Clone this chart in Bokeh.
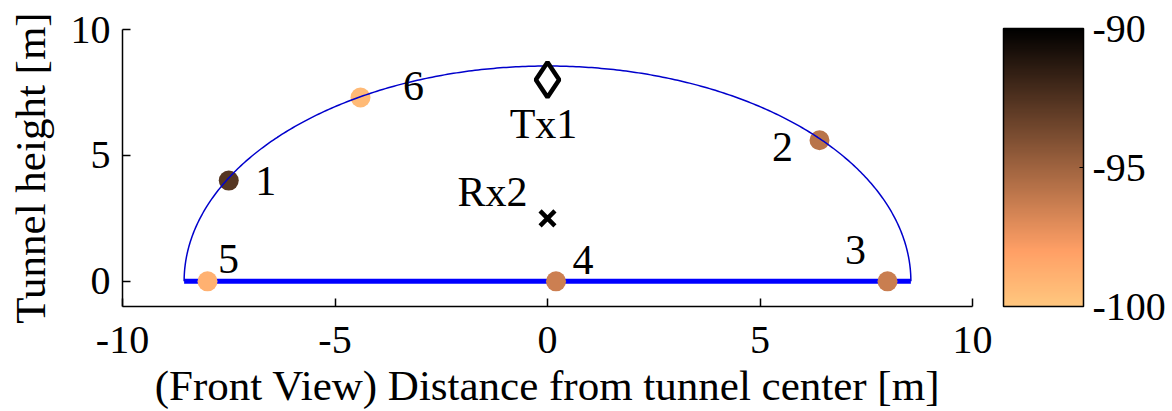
import numpy as np
from bokeh.plotting import figure
from bokeh.models import (ColumnDataSource, LinearColorMapper, ColorBar,
                          FixedTicker, Range1d, PrintfTickFormatter)
from bokeh.core.properties import value
from bokeh.embed import file_html
from bokeh.resources import INLINE

# Measurement points around the tunnel cross-section (front view)
point_ids = ["1", "2", "3", "4", "5", "6"]
point_x = [-7.5, 6.4, 8.0, 0.2, -8.0, -4.4]
point_y = [4.0, 5.6, 0.0, 0.0, 0.0, 7.3]
point_rss = [-92.7, -95.8, -96.3, -96.4, -98.9, -99.3]  # received power [dBm]

# Transmitter / receiver antenna positions
tx_name, tx_x, tx_y = "Tx1", 0.0, 8.0
rx_name, rx_x, rx_y = "Rx2", 0.0, 2.5

# Tunnel geometry
tunnel_radius = 8.55

# Axis ticks
x_ticks = [-10, -5, 0, 5, 10]
y_ticks = [0, 5, 10]
cbar_ticks = [-100, -95, -90]
cbar_low, cbar_high = -100, -90

FONT = "Liberation Serif"


def copper(t):
    r = min(1.0, 1.25 * t)
    g = 0.7812 * t
    b = 0.4975 * t
    return "#%02x%02x%02x" % (int(round(r * 255)), int(round(g * 255)), int(round(b * 255)))


# reversed copper: light at the low end, black at the high end
palette = [copper(1 - i / 255) for i in range(256)]
mapper = LinearColorMapper(palette=palette, low=cbar_low, high=cbar_high)

p = figure(width=1172, height=411, output_backend="svg", toolbar_location=None,
           x_range=Range1d(-10, 10), y_range=Range1d(-1, 10),
           min_border_left=122, min_border_right=200,
           min_border_top=29, min_border_bottom=104)
p.outline_line_color = None
p.grid.grid_line_color = None
p.background_fill_color = "white"
p.border_fill_color = "white"

# tunnel floor and arched ceiling
p.line([-tunnel_radius, tunnel_radius], [0, 0], line_color="#0000ff", line_width=5)

src = ColumnDataSource(dict(x=point_x, y=point_y, rss=point_rss, label=point_ids))
p.scatter("x", "y", source=src, size=20, marker="circle",
          fill_color={"field": "rss", "transform": mapper}, line_color=None)

theta = np.linspace(0, np.pi, 361)
p.line(tunnel_radius * np.cos(theta), tunnel_radius * np.sin(theta),
       line_color="#0000cc", line_width=1.5)

# antennas
p.scatter([tx_x], [tx_y], marker="diamond", size=35, fill_color="white",
          line_color="black", line_width=4.5)
p.scatter([rx_x], [rx_y], marker="x", size=21, line_color="black", line_width=4.5)

# labels (pixel offsets from the marked positions)
lab_dx = [37, -37, -32, 27, 21, 53]
lab_dy = [0, 7, -31, -21, -22, -11]
lsrc = ColumnDataSource(dict(x=point_x, y=point_y, t=point_ids, dx=lab_dx, dy=lab_dy))
p.text("x", "y", text="t", source=lsrc, x_offset="dx", y_offset="dy",
       text_font=value(FONT), text_font_size="42px", text_color="black",
       text_align="center", text_baseline="middle")
p.text([tx_x, rx_x], [tx_y, rx_y], text=[tx_name, rx_name],
       x_offset=[-4, -55], y_offset=[44, -26],
       text_font=value(FONT), text_font_size="42px", text_color="black",
       text_align="center", text_baseline="middle")

# axes
p.xaxis.ticker = FixedTicker(ticks=x_ticks)
p.yaxis.ticker = FixedTicker(ticks=y_ticks)
p.xaxis.formatter = PrintfTickFormatter(format="%d")
p.yaxis.formatter = PrintfTickFormatter(format="%d")
p.xaxis.axis_label = "(Front View) Distance from tunnel center [m]"
p.yaxis.axis_label = "Tunnel height [m]"
for ax in (p.xaxis, p.yaxis):
    ax.axis_line_color = "black"
    ax.axis_line_width = 1.5
    ax.major_tick_line_color = "black"
    ax.major_tick_line_width = 1.5
    ax.major_tick_in = 8
    ax.major_tick_out = 0
    ax.minor_tick_line_color = None
    ax.major_label_text_font = FONT
    ax.major_label_text_font_size = "40px"
    ax.major_label_text_color = "black"
    ax.axis_label_text_font = FONT
    ax.axis_label_text_font_size = "43px"
    ax.axis_label_text_font_style = "normal"
    ax.axis_label_text_color = "black"
p.xaxis.major_label_standoff = 20
p.xaxis.axis_label_standoff = 6
p.yaxis.major_label_standoff = 12
p.yaxis.axis_label_standoff = 14

cbar = ColorBar(color_mapper=mapper, ticker=FixedTicker(ticks=cbar_ticks),
                formatter=PrintfTickFormatter(format="%d"),
                width=80, height=278, location=(31, 0),
                padding=0, margin=0, label_standoff=9,
                bar_line_color="black", bar_line_width=1.5,
                major_tick_line_color="black", major_tick_in=4, major_tick_out=0,
                minor_tick_line_color=None,
                major_label_text_font=FONT, major_label_text_font_size="40px",
                major_label_text_color="black",
                background_fill_color="white", border_line_color=None)
p.add_layout(cbar, "right")

open("out.html", "w").write(file_html(p, INLINE))
